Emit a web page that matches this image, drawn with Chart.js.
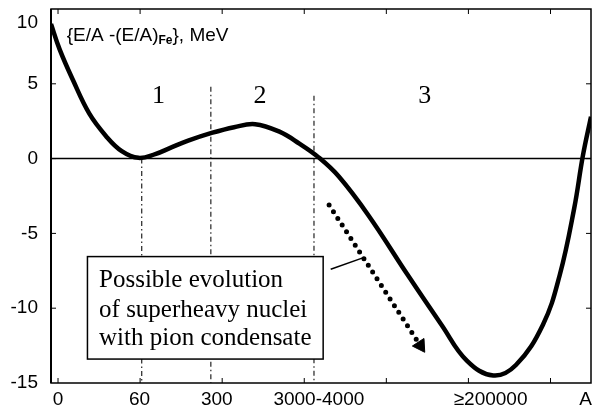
<!DOCTYPE html>
<html>
<head>
<meta charset="utf-8">
<script src="https://cdn.jsdelivr.net/npm/chart.js@4"></script>
<style>
  html, body { margin: 0; padding: 0; background: #fff; }
  #wrap { width: 600px; height: 414px; }
</style>
</head>
<body>
<div id="wrap"><canvas id="chart"></canvas></div>
<script>
// binding energy per nucleon relative to iron, along a schematic A axis (0..100)
const curveX = [0, 1.6, 4.0, 7.1, 10.2, 13.1, 16.2, 19.3, 22.3, 25.4, 29.6, 33.9, 37.8, 42.3, 46.0, 49.5,
                53.3, 58.8, 66.1, 72.3, 77.0, 81.9, 86.1, 91.1, 94.2, 96.9, 98.5, 100];
const curveY = [9.0, 7.3, 5.3, 3.0, 1.5, 0.5, 0.05, 0.3, 0.75, 1.2, 1.7, 2.1, 2.3, 1.8, 1.0, 0.1,
                -1.2, -3.8, -7.8, -11.1, -13.5, -14.5, -13.8, -11.1, -7.8, -3.3, 0.2, 2.8];

// A axis labels and where they sit on the schematic axis
const tickPos = [1.3, 16.4, 30.7, 49.6, 81.4, 99.0];
const tickLabels = ['0', '60', '300', '3000-4000', '\u2265200000', 'A'];

// small frame tick marks
const frameTicksX = [1.3, 16.5, 31.7, 46.9, 62.1, 77.3, 92.5];
const frameTicksY = [-10, -5, 0, 5];

// region borders (dash-dot lines) and region numbers
const dividerX = [16.8, 29.6, 48.7];
const dividerTop = [0, 4.8, 4.2];
const dividerBottom = -15;
const regionNames = ['1', '2', '3'];
const regionX = [19.9, 38.7, 69.2];
const regionY = 4.2;

// evolution arrow and the callout line to it
const arrowPath = [{ x: 51.5, y: -3.1 }, { x: 68.4, y: -12.5 }];
const leaderPath = [{ x: 51.8, y: -7.4 }, { x: 58.0, y: -6.6 }];

const boxLines = ['Possible evolution', 'of superheavy nuclei', 'with pion condensate'];
const boxRect = { left: 6.75, right: 50.4, top: -6.55, bottom: -13.4 };
const boxTextX = 8.9;
const boxBaselines = [-8.6, -10.6, -12.45];

const yTitle = { x: 2.9, y: 8.2 };

const curveData = curveX.map((v, i) => ({ x: v, y: curveY[i] }));

const dividerSets = dividerX.map((v, i) => ({
  data: [{ x: v, y: dividerTop[i] }, { x: v, y: dividerBottom }],
  borderColor: '#222',
  borderWidth: 1.2,
  borderDash: [5, 3, 1.5, 3],
  pointRadius: 0,
  showLine: true
}));

const marks = {
  id: 'marks',
  afterDatasetsDraw(chart) {
    const { ctx, chartArea: a, scales: { x, y } } = chart;
    ctx.save();

    // callout box
    const bl = x.getPixelForValue(boxRect.left), br = x.getPixelForValue(boxRect.right);
    const bt = y.getPixelForValue(boxRect.top), bb = y.getPixelForValue(boxRect.bottom);
    ctx.fillStyle = '#fff';
    ctx.fillRect(bl, bt, br - bl, bb - bt);
    ctx.strokeStyle = '#000';
    ctx.lineWidth = 1.5;
    ctx.strokeRect(bl, bt, br - bl, bb - bt);
    ctx.fillStyle = '#000';
    ctx.font = '25px "Liberation Serif", "Times New Roman", serif';
    ctx.textAlign = 'left';
    ctx.textBaseline = 'alphabetic';
    boxLines.forEach((t, i) => ctx.fillText(t, x.getPixelForValue(boxTextX), y.getPixelForValue(boxBaselines[i])));

    // region numbers
    ctx.font = '26px "Liberation Serif", "Times New Roman", serif';
    ctx.textAlign = 'center';
    ctx.textBaseline = 'middle';
    regionNames.forEach((t, i) => ctx.fillText(t, x.getPixelForValue(regionX[i]), y.getPixelForValue(regionY)));

    // y title with subscript
    let tx = x.getPixelForValue(yTitle.x);
    const ty = y.getPixelForValue(yTitle.y);
    ctx.textAlign = 'left';
    ctx.font = '19px "Liberation Sans", Arial, sans-serif';
    ctx.fillText('{E/A -(E/A)', tx, ty);
    tx += ctx.measureText('{E/A -(E/A)').width;
    ctx.font = 'bold 12px "Liberation Sans", Arial, sans-serif';
    ctx.fillText('Fe', tx, ty + 5);
    tx += ctx.measureText('Fe').width;
    ctx.font = '19px "Liberation Sans", Arial, sans-serif';
    ctx.fillText('}, MeV', tx, ty);

    // frame
    ctx.strokeStyle = '#000';
    ctx.lineWidth = 1.5;
    ctx.strokeRect(a.left, a.top, a.right - a.left, a.bottom - a.top);
    ctx.lineWidth = 2;
    ctx.beginPath();
    ctx.moveTo(a.left, a.top);
    ctx.lineTo(a.left, a.bottom);
    ctx.stroke();

    ctx.lineWidth = 1;
    ctx.beginPath();
    frameTicksX.forEach(v => {
      const px = x.getPixelForValue(v);
      ctx.moveTo(px, a.bottom); ctx.lineTo(px, a.bottom - 5);
      ctx.moveTo(px, a.top); ctx.lineTo(px, a.top + 5);
    });
    frameTicksY.forEach(v => {
      const py = y.getPixelForValue(v);
      ctx.moveTo(a.left, py); ctx.lineTo(a.left + 5, py);
      ctx.moveTo(a.right, py); ctx.lineTo(a.right - 5, py);
    });
    ctx.stroke();
    ctx.restore();
  }
};

const tickFont = { family: '"Liberation Sans", Arial, sans-serif', size: 19 };

new Chart(document.getElementById('chart'), {
  type: 'scatter',
  data: {
    datasets: [
      {
        data: curveData,
        showLine: true,
        borderColor: '#000',
        borderWidth: 4.5,
        pointRadius: 0,
        tension: 0.4
      },
      {
        data: arrowPath,
        showLine: true,
        borderColor: '#000',
        borderWidth: 5,
        borderDash: [0, 8],
        borderCapStyle: 'round',
        pointRadius: [0, 8],
        pointStyle: 'triangle',
        pointRotation: 146.8,
        pointBackgroundColor: '#000',
        pointBorderColor: '#000',
        pointBorderWidth: 1
      },
      {
        data: leaderPath,
        showLine: true,
        borderColor: '#000',
        borderWidth: 1.5,
        pointRadius: 0
      },
      {
        data: [{ x: 0, y: 0 }, { x: 100, y: 0 }],
        showLine: true,
        borderColor: '#000',
        borderWidth: 1.5,
        pointRadius: 0
      },
      ...dividerSets
    ]
  },
  options: {
    responsive: true,
    maintainAspectRatio: false,
    animation: false,
    devicePixelRatio: 1,
    layout: { padding: { top: 8, right: 1, left: 0, bottom: 0 } },
    plugins: { legend: { display: false }, tooltip: { enabled: false } },
    scales: {
      x: {
        type: 'linear',
        min: 0,
        max: 100,
        grid: { display: false, drawTicks: false },
        border: { display: false },
        afterBuildTicks: s => { s.ticks = tickPos.map(v => ({ value: v })); },
        afterFit: s => { s.height = 31; s.paddingLeft = 0; s.paddingRight = 0; },
        ticks: {
          autoSkip: false,
          maxRotation: 0,
          padding: 5,
          color: '#000',
          font: tickFont,
          callback: (v, i) => tickLabels[i]
        }
      },
      y: {
        min: -15,
        max: 10,
        grid: { display: false, drawTicks: false },
        border: { display: false },
        afterFit: s => { s.width = 51; s.paddingTop = 0; s.paddingBottom = 0; },
        ticks: {
          stepSize: 5,
          padding: 13,
          color: '#000',
          font: { family: tickFont.family, size: 19, lineHeight: 1.5 },
          // the top label sits just below the frame corner
          callback: v => (v === 10 ? ['', '10'] : String(v))
        }
      }
    }
  },
  plugins: [marks]
});
</script>
</body>
</html>
